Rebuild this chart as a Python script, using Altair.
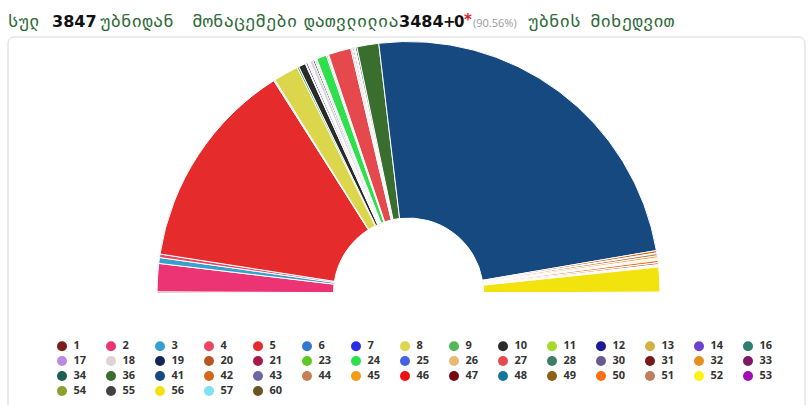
import math
import altair as alt
import pandas as pd

# Party numbers (legend labels), vote shares (%) read from the half-donut, and colours
parties = ["1", "2", "3", "4", "5", "6", "7", "8", "9", "10", "11", "12", "13", "14", "16",
           "17", "18", "19", "20", "21", "23", "24", "25", "26", "27", "28", "30", "31", "32", "33",
           "34", "36", "41", "42", "43", "44", "45", "46", "47", "48", "49", "50", "51", "52", "53",
           "54", "55", "56", "57", "60"]
shares = [0.15, 3.6, 0.75, 0.45, 27.0, 0.1, 0.08, 3.2, 0.25, 0.9, 0.1, 0.2, 0.1, 0.05, 0.1,
          0.1, 0.4, 0.2, 0.1, 0.12, 0.1, 1.3, 0.15, 0.15, 2.9, 0.15, 0.1, 0.15, 0.1, 0.1,
          0.2, 2.8, 48.3, 0.3, 0.08, 0.3, 0.25, 0.08, 0.08, 0.08, 0.08, 0.3, 0.25, 0.08, 0.05,
          0.08, 0.08, 3.2, 0.05, 0.05]
colors = ["#7a1c1c", "#ec3474", "#38a1cb", "#ef4560", "#e52b2b", "#3278cc", "#2b2de6", "#dbd64b",
          "#52b95a", "#2a2a2a", "#a6d92b", "#19199a", "#d5b143", "#6b42d3", "#2f7d6c",
          "#b98ae0", "#dcd3d3", "#112652", "#b95426", "#a8194a", "#5cc825", "#2ee04c", "#4562e3",
          "#e9b96f", "#e5494e", "#3e7e66", "#685b93", "#751a18", "#e4901e", "#7d1766",
          "#205d51", "#3a6e2e", "#16497f", "#d5671a", "#6e67a2", "#c87f57", "#f39a17", "#ee0f10",
          "#760a10", "#15779c", "#8e5f17", "#fa6f14", "#bf7e5e", "#fbf315", "#a00fb0",
          "#8d9f30", "#444040", "#f2e30e", "#7fe2f2", "#6b5420"]

df = pd.DataFrame({"party": parties, "share": shares, "num": list(range(len(parties)))})

GREEN = "#2f6b3a"
GEO_FONT = "DejaVu Sans Mono"

frame = alt.Chart(pd.DataFrame({"k": [0]})).mark_rect(
    fill="white", stroke="#d6d6d6", strokeWidth=1, cornerRadius=6
).encode(x=alt.value(8), x2=alt.value(805), y=alt.value(37), y2=alt.value(450))

arc = alt.Chart(df).mark_arc(
    radius=251.5, innerRadius=75, stroke="white", strokeWidth=1
).encode(
    theta=alt.Theta("share:Q", stack=True,
                    scale=alt.Scale(range=[-math.pi / 2, math.pi / 2])),
    color=alt.Color(
        "party:N",
        scale=alt.Scale(domain=parties, range=colors),
        legend=alt.Legend(
            title=None, orient="none", direction="horizontal",
            legendX=56.5, legendY=340.5, columns=15, symbolLimit=0,
            symbolType="circle", symbolSize=100, symbolStrokeWidth=0, symbolOpacity=1,
            labelFont="Open Sans", labelFontSize=11, labelFontWeight="bold",
            labelColor="#333333", labelOffset=6, columnPadding=19.0, rowPadding=3,
            padding=0,
        ),
    ),
    order=alt.Order("num:Q"),
    x=alt.value(408.5),
    y=alt.value(293),
    tooltip=["party:N", "share:Q"],
)


def seg(txt, x, color=GREEN, size=17.5, weight="normal", font=GEO_FONT, y=26.5):
    return alt.Chart(pd.DataFrame({"t": [txt]})).mark_text(
        align="left", baseline="alphabetic", font=font, fontSize=size,
        fontWeight=weight, color=color
    ).encode(text="t:N", x=alt.value(x), y=alt.value(y))


title_layers = [
    seg("სულ", 8),
    seg("3847", 52, color="#111111", size=16, weight="bold", font="DejaVu Sans"),
    seg("უბნიდან", 100),
    seg("მონაცემები", 192),
    seg("დათვლილია", 304),
    seg("3484", 399, color="#111111", size=16, weight="bold", font="DejaVu Sans"),
    seg("+", 443, color="#111111", size=15, weight="bold", font="DejaVu Sans"),
    seg("0", 454, color="#111111", size=15, weight="bold", font="DejaVu Sans"),
    seg("*", 464, color="#e02020", size=15, weight="bold", font="DejaVu Sans", y=25),
    seg("(90.56%)", 473, color="#999999", size=11, font="Open Sans"),
    seg("უბნის", 528),
    seg("მიხედვით", 590),
]

chart = alt.layer(frame, arc, *title_layers).properties(
    width=810, height=405, padding=0,
    autosize=alt.AutoSizeParams(type="none"),
    background="white",
).configure_view(stroke=None)

chart.save("out.html", embed_options={"renderer": "svg", "actions": False})
